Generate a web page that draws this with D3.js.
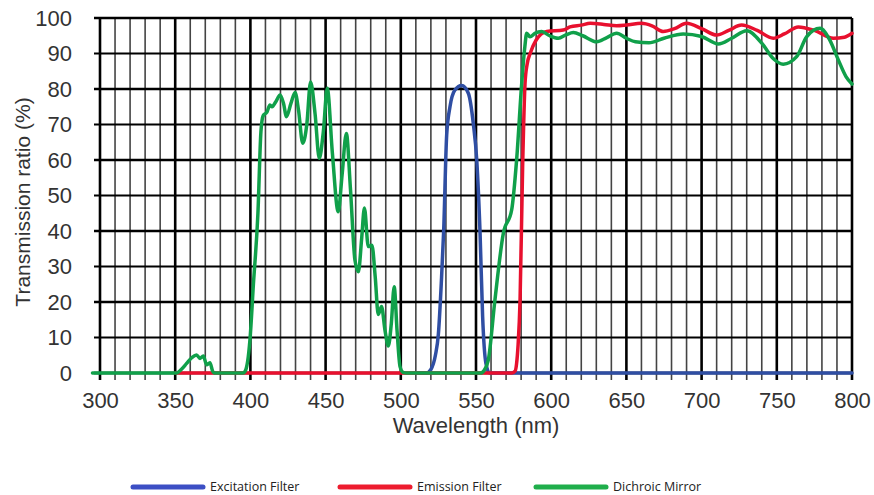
<!DOCTYPE html>
<html>
<head>
<meta charset="utf-8">
<script src="https://cdn.jsdelivr.net/npm/d3@7"></script>
<style>
  body { margin: 0; background: #fff; }
  svg { display: block; }
</style>
</head>
<body>
<script>
// DATA
const excitationNm = [510, 517, 520, 523, 525, 527, 528.5, 530.5, 532.7, 536, 540.5, 544.9, 548.2, 550.5, 552.7, 554.4, 556.6, 559, 600, 700, 800];
const excitationVal = [0, 0, 1, 5, 11, 26, 40, 67, 75, 79.7, 81, 78.8, 70.3, 60, 39.4, 16, 2.7, 0, 0, 0, 0];

const emissionNm = [350, 400, 500, 574, 576, 577, 578, 579.3, 581, 582.6, 584, 586, 590, 597, 608, 612.5, 620, 626, 635, 643.5, 650, 660, 667, 674.5, 682, 690, 700, 710, 718, 726.6, 737, 747.6, 755, 764.3, 775, 787.6, 795, 800];
const emissionVal = [0, 0, 0, 0, 0.5, 2.7, 8, 20.6, 58, 81.6, 87, 90, 93.8, 96.2, 96.6, 97.5, 98, 98.5, 98.2, 97.8, 98, 98.5, 97.8, 96.2, 97, 98.5, 97, 95.2, 96.5, 98, 96.5, 94.3, 95.5, 97.5, 96.5, 94.3, 94.6, 95.7];

const dichroicNm = [295, 351, 354, 357.6, 361, 364.2, 366.5, 368.7, 370.9, 373.1, 374.9, 376, 395, 396.5, 399.7, 402, 405, 407, 408.5, 411, 413, 414.4, 417, 419.7, 422, 424, 427, 429.7, 432, 434.8, 437.5, 440, 443, 445.8, 448.5, 451.1, 454.5, 458.4, 461, 463.8, 466.5, 469.5, 471.8, 474, 475.8, 478.4, 480.8, 483, 485, 487.2, 489.5, 491.7, 493.7, 495.6, 497.5, 499.5, 501.5, 504, 553, 555.5, 558.2, 562.6, 568.2, 573.7, 577, 580.4, 582.5, 583.7, 585.9, 589.2, 593.7, 599, 604.7, 610, 614.7, 621, 630.2, 637, 643.5, 650, 656, 665, 675, 687.8, 700, 711.1, 720, 730, 740, 747.6, 754.3, 763.2, 769.8, 778.7, 785, 790.9, 796, 800];
const dichroicVal = [0, 0, 1, 2.7, 4.3, 5.1, 4.1, 4.8, 2.3, 2.9, 0.5, 0, 0, 0.5, 9.3, 25, 45, 68, 72.5, 73.5, 75.5, 75, 76.5, 78.3, 76, 72.2, 76, 79, 74, 64.7, 70, 82, 73, 60.5, 68, 80.2, 62, 45.4, 56, 67.5, 52, 31.8, 28.5, 38, 46.5, 35.6, 36, 27, 16.5, 18.7, 12, 7.6, 14, 24.3, 12, 1.8, 0.2, 0, 0, 0.8, 3.7, 20.6, 39.4, 45.9, 60, 81.6, 92, 95.7, 94.7, 95.7, 96.2, 95, 94.3, 95.3, 95.9, 95, 93.3, 94.5, 95.7, 94.3, 93.3, 93, 94.3, 95.5, 94.8, 92.7, 94.3, 96.4, 92.9, 88.6, 87, 89.1, 94.7, 97.1, 94, 88.2, 83.5, 81.4];

const xTicks = [300, 350, 400, 450, 500, 550, 600, 650, 700, 750, 800];
const yTicks = [0, 10, 20, 30, 40, 50, 60, 70, 80, 90, 100];
const seriesNames = ['Excitation Filter', 'Emission Filter', 'Dichroic Mirror'];

// CONFIGURATION
const width = 874;
const height = 495;
const plotLeft = 100, plotRight = 852, plotTop = 18, plotBottom = 373;
const lineColors = ['#2f4ea3', '#e8102e', '#10a04a'];
const legendColors = ['#3c4fc4', '#ed1c2e', '#1fae4b'];
const font = '"Liberation Sans", Arial, sans-serif';

const x = d3.scaleLinear().domain([300, 800]).range([plotLeft, plotRight]);
const y = d3.scaleLinear().domain([0, 100]).range([plotBottom, plotTop]);

const svg = d3.select('body')
  .append('svg')
  .attr('width', width)
  .attr('height', height);

// GRID
const grid = svg.append('g');
grid.selectAll('line.v')
  .data(d3.range(300, 801, 10))
  .enter()
  .append('line')
  .attr('class', 'v')
  .attr('x1', d => x(d))
  .attr('x2', d => x(d))
  .attr('y1', y(100))
  .attr('y2', y(0) + 7)
  .attr('stroke', d => d % 50 === 0 ? '#000' : '#444')
  .attr('stroke-width', d => d % 50 === 0 ? 2.6 : 1.6);

grid.selectAll('line.h')
  .data(d3.range(0, 101, 10))
  .enter()
  .append('line')
  .attr('class', 'h')
  .attr('x1', x(300) - 6)
  .attr('x2', x(800))
  .attr('y1', d => y(d))
  .attr('y2', d => y(d))
  .attr('stroke', '#000')
  .attr('stroke-width', d => d % 20 === 0 ? 2.6 : 1.8);

// AXES
const xAxis = d3.axisBottom(x).tickValues(xTicks).tickSize(0).tickPadding(19);
const yAxis = d3.axisLeft(y).tickValues(yTicks).tickSize(0).tickPadding(28);

const gx = svg.append('g')
  .attr('transform', `translate(0, ${plotBottom})`)
  .call(xAxis);
const gy = svg.append('g')
  .attr('transform', `translate(${plotLeft}, 0)`)
  .call(yAxis);

[gx, gy].forEach(g => {
  g.select('.domain').remove();
  g.selectAll('text')
    .attr('fill', '#333')
    .style('font-family', font)
    .style('font-size', '22px');
});

svg.append('text')
  .attr('x', (plotLeft + plotRight) / 2)
  .attr('y', 433)
  .attr('text-anchor', 'middle')
  .attr('fill', '#333')
  .style('font-family', font)
  .style('font-size', '22px')
  .text('Wavelength (nm)');

svg.append('text')
  .attr('transform', 'translate(30, 202) rotate(-90)')
  .attr('text-anchor', 'middle')
  .attr('fill', '#333')
  .style('font-family', font)
  .style('font-size', '21px')
  .text('Transmission ratio (%)');

// CURVES
const line = d3.line()
  .x(d => x(d[0]))
  .y(d => y(d[1]))
  .curve(d3.curveMonotoneX);

const series = [
  d3.zip(excitationNm, excitationVal),
  d3.zip(emissionNm, emissionVal),
  d3.zip(dichroicNm, dichroicVal)
];

svg.selectAll('path.curve')
  .data(series)
  .enter()
  .append('path')
  .attr('class', 'curve')
  .attr('d', line)
  .attr('fill', 'none')
  .attr('stroke', (d, i) => lineColors[i])
  .attr('stroke-width', 3.5)
  .attr('stroke-linejoin', 'round')
  .attr('stroke-linecap', 'round');

// LEGEND
const legendX = [133, 340, 536];
const legend = svg.append('g');
seriesNames.forEach((name, i) => {
  legend.append('line')
    .attr('x1', legendX[i])
    .attr('x2', legendX[i] + 70)
    .attr('y1', 487)
    .attr('y2', 487)
    .attr('stroke', legendColors[i])
    .attr('stroke-width', 5)
    .attr('stroke-linecap', 'round');
  legend.append('text')
    .attr('x', legendX[i] + 77)
    .attr('y', 491)
    .attr('fill', '#222')
    .style('font-family', '"Open Sans", sans-serif')
    .style('font-size', '12.5px')
    .text(name);
});
</script>
</body>
</html>
